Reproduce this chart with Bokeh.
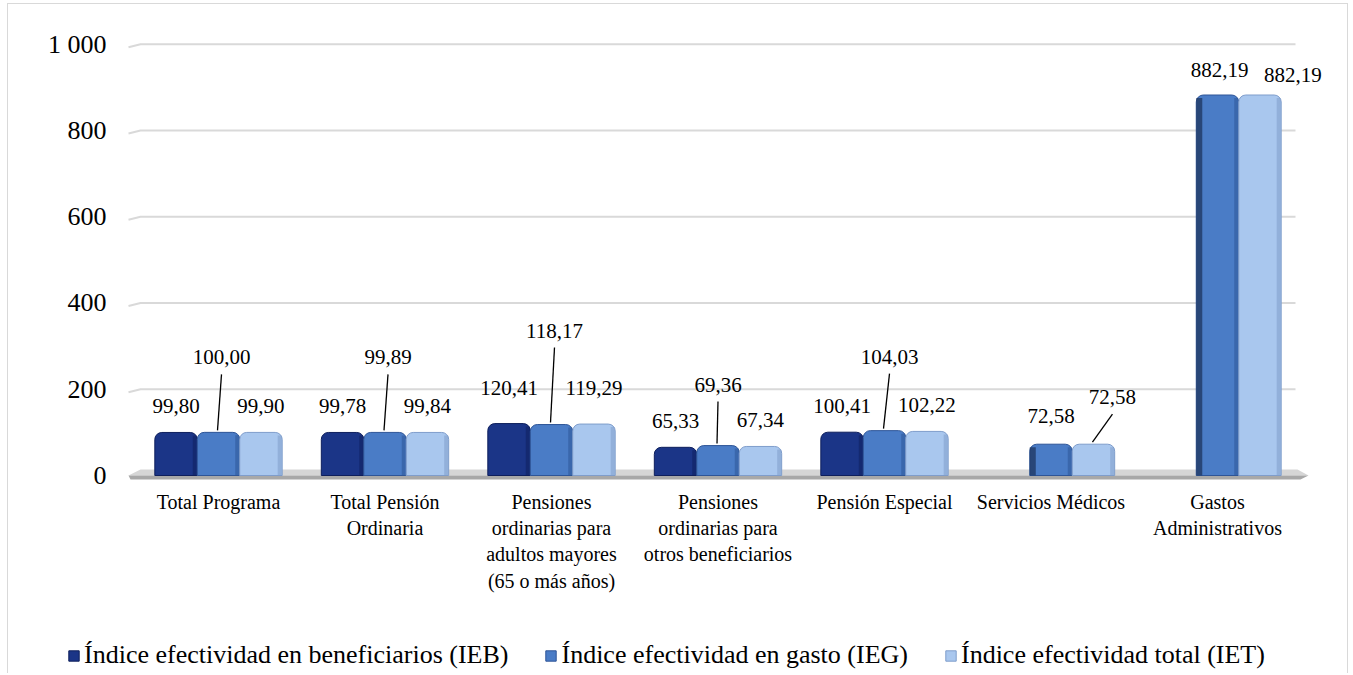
from bokeh.plotting import figure
from bokeh.models import (ColumnDataSource, FixedTicker, Legend, LegendItem,
                          Range1d)
from bokeh.embed import file_html
from bokeh.resources import INLINE
from bokeh.core.properties import value

# ---------------- data ----------------
categories = ["Total Programa", "Total Pensión Ordinaria",
              "Pensiones ordinarias para adultos mayores (65 o más años)",
              "Pensiones ordinarias para otros beneficiarios",
              "Pensión Especial", "Servicios Médicos", "Gastos Administrativos"]
tick_labels = ["Total Programa", "Total Pensión\nOrdinaria",
               "Pensiones\nordinarias para\nadultos mayores\n(65 o más años)",
               "Pensiones\nordinarias para\notros beneficiarios",
               "Pensión Especial", "Servicios Médicos",
               "Gastos\nAdministrativos"]
ieb = [99.80, 99.78, 120.41, 65.33, 100.41, None, None]
ieg = [100.00, 99.89, 118.17, 69.36, 104.03, 72.58, 882.19]
iet = [99.90, 99.84, 119.29, 67.34, 102.22, 72.58, 882.19]
series_names = ["Índice efectividad en beneficiarios (IEB)",
                "Índice efectividad en gasto (IEG)",
                "Índice efectividad total (IET)"]
y_ticks = [0, 200, 400, 600, 800, 1000]
y_tick_labels = ["0", "200", "400", "600", "800", "1 000"]

# ---------------- style ----------------
FONT = "Liberation Serif"
colors = ["#1B3587", "#4A7CC6", "#A9C7EE"]
edge_colors = ["#0E1F5C", "#2E5597", "#7F9DCB"]
offsets = [-0.255, 0.0, 0.255]
bar_w = 0.255
# label shifts in screen px (dx right, dy up from bar top)
label_shift = [
    [(0, 26), (0, 26), (0, 36), (0, 26), (0, 26), None, None],
    [(3, 75), (3, 75), (3, 94), (0, 61), (5, 74), (0, 28), (2, 25)],
    [(0, 26), (0, 26), (0, 36), (0, 26), (0, 26), (19, 47), (33, 20)],
]
leaders = [
    [False] * 7,
    [True, True, True, True, True, False, False],
    [False, False, False, False, False, True, False],
]

OX, OY = 8, 4                      # canvas origin on the page
W, H1, H2 = 1341, 630, 40
PX_UNIT = 166.5                    # px per category
X0_PAGE = 218                      # page x of first category
Y0_PAGE = 475                      # page y of value 0
PY_UNIT = 0.4313                   # px per value unit
F_L, F_R, F_T, F_B = 126, 1340, 30, 481   # frame edges on the page

x_start = (F_L - X0_PAGE) / PX_UNIT
x_end = (F_R - X0_PAGE) / PX_UNIT
y_end = (Y0_PAGE - F_T) / PY_UNIT
y_start = (Y0_PAGE - F_B) / PY_UNIT

def px2x(px):
    return (px - X0_PAGE) / PX_UNIT

def px2y(py):
    return (Y0_PAGE - py) / PY_UNIT

p = figure(width=W, height=H1, output_backend="svg", toolbar_location=None,
           x_range=Range1d(x_start, x_end), y_range=Range1d(y_start, y_end),
           min_border_left=F_L - OX, min_border_right=W - (F_R - OX),
           min_border_top=F_T - OY, min_border_bottom=H1 - (F_B - OY),
           outline_line_color=None, background_fill_color="white",
           border_fill_color="white")
p.styles = {"margin-left": "7px", "margin-top": "3px",
            "border-left": "1px solid #D9D9D9", "border-top": "1px solid #D9D9D9",
            "border-right": "1px solid #D9D9D9"}
p.xgrid.visible = False
p.ygrid.visible = False

# back-wall gridlines with a short perspective slant at the left
gx, gy = [], []
for t in y_ticks[1:]:
    gx.append([px2x(128), px2x(140), px2x(1295)])
    gy.append([t - 3 / PY_UNIT, t, t])
p.multi_line(gx, gy, line_color="#D9D9D9", line_width=2)

# floor slab
p.patch([px2x(140), px2x(1297), px2x(1308), px2x(128)],
        [px2y(469), px2y(469), px2y(475), px2y(475)],
        fill_color="#D6D6D6", line_color=None)
p.patch([px2x(128), px2x(1308), px2x(1300), px2x(130)],
        [px2y(475), px2y(475), px2y(479), px2y(479)],
        fill_color="#A8A8A8", line_color=None)

# bars
series = [ieb, ieg, iet]
for k, vals in enumerate(series):
    xs = [i + offsets[k] for i, v in enumerate(vals) if v is not None]
    tops = [v for v in vals if v is not None]
    src = ColumnDataSource(dict(x=xs, top=tops))
    p.vbar(x="x", top="top", bottom=0, width=bar_w, source=src,
           fill_color=colors[k], line_color=edge_colors[k], line_width=1,
           border_radius=(7, 7, 0, 0))
    p.vbar(x=[x + bar_w / 2 - 2.5 / PX_UNIT for x in xs],
           top=[t - 3 / PY_UNIT for t in tops],
           bottom=0, width=4 / PX_UNIT, fill_color=edge_colors[k], fill_alpha=0.55,
           line_color=None)

# visible 3D side for bars with no left neighbour
side_x = [i + offsets[1] - bar_w / 2 + 3 / PX_UNIT for i, v in enumerate(ieb) if v is None]
side_top = [ieg[i] - 3 / PY_UNIT for i, v in enumerate(ieb) if v is None]
p.vbar(x=side_x, top=side_top, bottom=0, width=6 / PX_UNIT, fill_color="#1F3864",
       fill_alpha=0.8, line_color=None)

# data labels + leader lines
lx, ly, lt = [], [], []
sx0, sy0, sx1, sy1 = [], [], [], []
for k, vals in enumerate(series):
    for i, v in enumerate(vals):
        if v is None:
            continue
        dx, dy = label_shift[k][i]
        bx = i + offsets[k]
        x_lab = bx + dx / PX_UNIT
        y_lab = v + dy / PY_UNIT
        lx.append(x_lab)
        ly.append(y_lab)
        lt.append(f"{v:.2f}".replace(".", ","))
        if leaders[k][i]:
            sx0.append(x_lab)
            sy0.append(y_lab - 17 / PY_UNIT)
            sx1.append(bx - 1 / PX_UNIT)
            sy1.append(v + 2 / PY_UNIT)
p.segment(sx0, sy0, sx1, sy1, line_color="black", line_width=1.3)
p.text(lx, ly, text=lt, text_font=value(FONT), text_font_size="21px",
       text_align="center", text_baseline="middle", text_color="black")

# axes
p.yaxis.ticker = FixedTicker(ticks=y_ticks)
p.yaxis.major_label_overrides = {t: l for t, l in zip(y_ticks, y_tick_labels)}
p.yaxis.major_label_text_font = FONT
p.yaxis.major_label_text_font_size = "26px"
p.yaxis.major_label_text_color = "black"
p.yaxis.axis_line_color = None
p.yaxis.major_tick_line_color = None
p.yaxis.minor_tick_line_color = None
p.yaxis.major_label_standoff = 14

p.xaxis.ticker = FixedTicker(ticks=list(range(len(categories))))
p.xaxis.major_label_overrides = {i: l for i, l in enumerate(tick_labels)}
p.xaxis.major_label_text_font = FONT
p.xaxis.major_label_text_font_size = "20px"
p.xaxis.major_label_text_color = "black"
p.xaxis.axis_line_color = None
p.xaxis.major_tick_line_color = None
p.xaxis.minor_tick_line_color = None
p.xaxis.major_label_standoff = 3

# ---------------- legend strip (second root, stacked below) ----------------
lg = figure(width=W, height=H2, output_backend="svg", toolbar_location=None,
            x_range=Range1d(0, 1), y_range=Range1d(0, 1),
            x_axis_location=None, y_axis_location=None,
            min_border=0, outline_line_color=None,
            background_fill_color="white", border_fill_color="white")
lg.styles = {"margin-left": "7px",
             "border-left": "1px solid #D9D9D9", "border-right": "1px solid #D9D9D9"}
lg.grid.visible = False
proxies = [lg.vbar(x=[0.5], top=[1], bottom=0, width=0.1, fill_color=colors[k],
                   line_color=edge_colors[k], visible=False) for k in range(3)]
legend = Legend(items=[LegendItem(label=series_names[k], renderers=[proxies[k]])
                       for k in range(3)],
                orientation="horizontal", location=(59, 3),
                border_line_color=None, background_fill_alpha=0,
                inactive_fill_alpha=0,
                label_text_font=FONT, label_text_font_size="26px",
                label_text_color="black", glyph_width=13, glyph_height=13,
                spacing=36, label_standoff=4, padding=4, margin=0)
lg.add_layout(legend)

open("out.html", "w").write(file_html([p, lg], INLINE))
